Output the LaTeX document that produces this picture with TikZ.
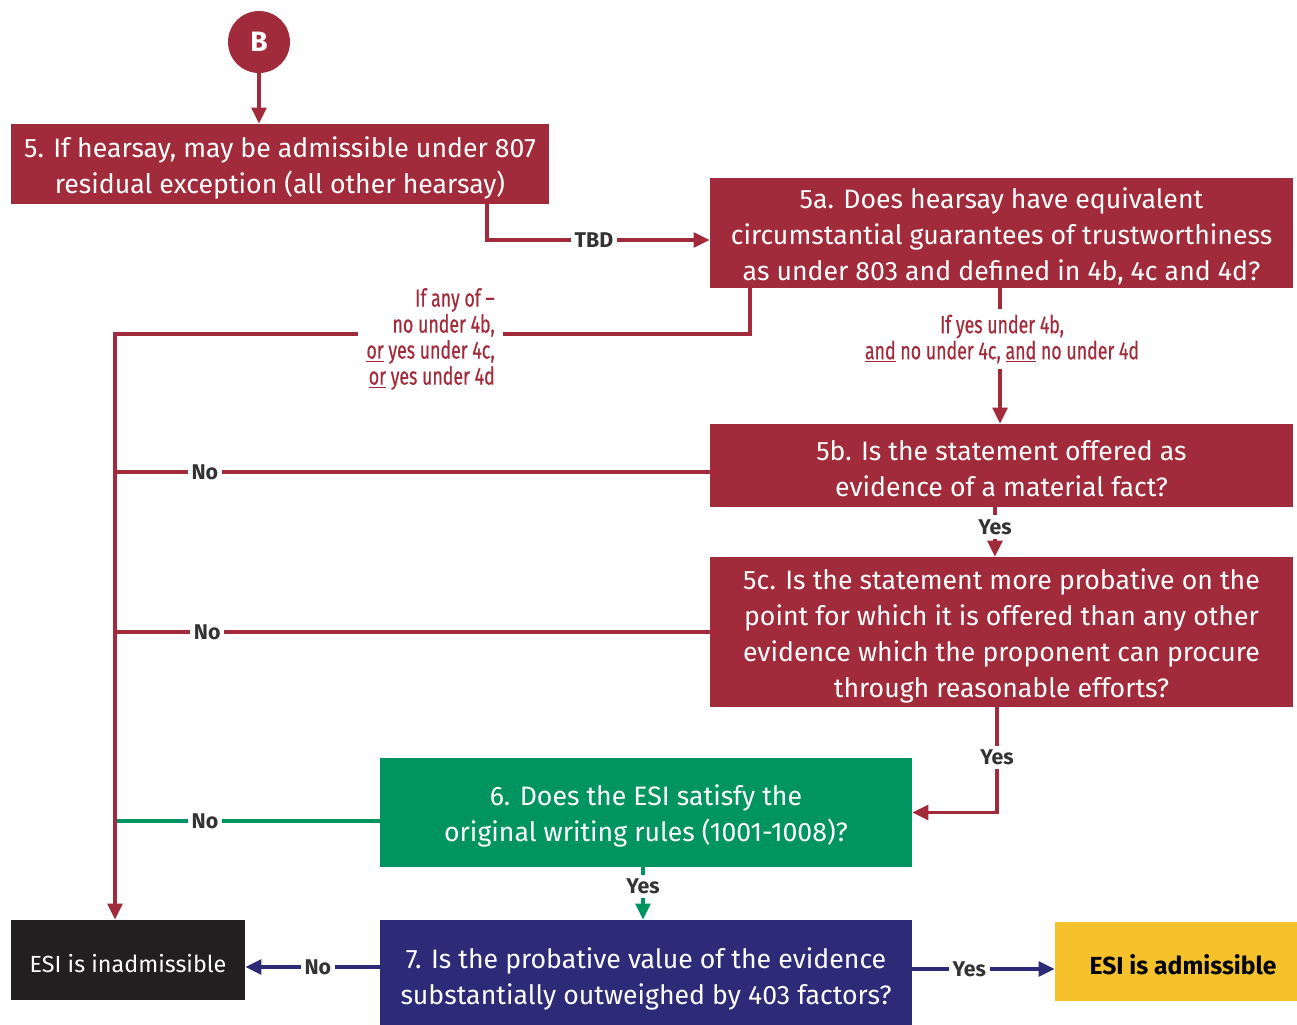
\documentclass[tikz,border=0pt]{standalone}
\usepackage{fontspec}
\setmainfont{Fira Sans}
\newfontfamily\condfont[FakeStretch=0.72,FakeBold=0.5]{Fira Sans}
\usetikzlibrary{arrows.meta}
\definecolor{cred}{HTML}{A22B3B}
\definecolor{cgreen}{HTML}{009560}
\definecolor{cnavy}{HTML}{2D2A78}
\definecolor{cyel}{HTML}{F6C22C}
\definecolor{cblk}{HTML}{231F20}
\definecolor{cgray}{HTML}{333333}
\tikzset{
  box/.style={rectangle, inner sep=0pt},
  boxtext/.style={inner sep=0pt, align=center, text=white,
    font=\fontsize{20}{27}\selectfont},
  conn/.style={line width=2.6pt},
  tip/.style={-{Triangle[length=12pt,width=11pt]}},
  lbl/.style={fill=white, inner sep=3pt, text=cgray, font=\fontsize{16}{18}\selectfont\bfseries},
  cond/.style={fill=white, text=cred, font=\fontsize{18.5}{19.5}\selectfont\condfont},
}
\begin{document}
\begin{tikzpicture}[x=0.75pt,y=-0.75pt]
\useasboundingbox (0,0) rectangle (1297,1025);
% boxes
\node[circle, fill=cred, minimum size=46.5pt, inner sep=0pt, text=white,
  font=\fontsize{21}{21}\selectfont\bfseries] (B) at (259,42) {B};
\node[box, fill=cred, minimum width=403.5pt, minimum height=60pt] (b5) at (280,164) {};
\node[box, fill=cred, minimum width=437.25pt, minimum height=82.5pt] (b5a) at (1001.5,233) {};
\node[box, fill=cred, minimum width=437.25pt, minimum height=62.25pt] (b5b) at (1001.5,465.5) {};
\node[box, fill=cred, minimum width=437.25pt, minimum height=112.5pt] (b5c) at (1001.5,632) {};
\node[box, fill=cgreen, minimum width=399pt, minimum height=81.75pt] (b6) at (646,812.5) {};
\node[box, fill=cnavy, minimum width=399pt, minimum height=87pt] (b7) at (646,978) {};
\node[box, fill=cblk, minimum width=175.5pt, minimum height=60pt] (inad) at (128,960) {};
\node[box, fill=cyel, minimum width=192pt, minimum height=59.25pt] (adm) at (1183,961.5) {};
% box texts
\node[boxtext] (t5) at ([yshift=-2.6pt]b5.center)
  {5. If hearsay, may be admissible under 807\\residual exception (all other hearsay)};
\node[boxtext] (t5a) at ([yshift=-2.6pt]b5a.center)
  {5a. Does hearsay have equivalent\\circumstantial guarantees of trustworthiness\\as under 803 and defined in 4b, 4c and 4d?};
\node[boxtext] (t5b) at ([yshift=-2.4pt]b5b.center)
  {5b. Is the statement offered as\\evidence of a material fact?};
\node[boxtext] (t5c) at ([yshift=-3.2pt]b5c.center)
  {5c. Is the statement more probative on the\\point for which it is offered than any other\\evidence which the proponent can procure\\through reasonable efforts?};
\node[boxtext] (t6) at ([yshift=-2.8pt]b6.center)
  {6. Does the ESI satisfy the\\original writing rules (1001-1008)?};
\node[boxtext] (t7) at ([yshift=-0.6pt]b7.center)
  {7. Is the probative value of the evidence\\substantially outweighed by 403 factors?};
\node[boxtext, font=\fontsize{17.5}{27}\selectfont] (tinad) at ([yshift=-2.3pt]inad.center)
  {ESI is inadmissible};
\node[boxtext, text=black, font=\fontsize{18.5}{27}\selectfont\bfseries] (tadm) at ([yshift=-2.3pt]adm.center)
  {ESI is admissible};
\coordinate (trunk) at (115,334);

% connectors
\draw[conn, cred, tip] (B.south) -- (B.south |- b5.north);
\draw[conn, cred, tip] ([xshift=155.25pt]b5.south) |- node[lbl, pos=0.74] {TBD} ([yshift=-5.25pt]b5a.west);
\draw[conn, cred] ([yshift=-5pt]b5b.west) -- node[lbl, pos=0.849] {No} ([yshift=-5pt]b5b.west -| trunk);
\draw[conn, cred] (b5c.west) -- node[lbl, pos=0.845] {No} (b5c.west -| trunk);
\draw[conn, cgreen] ([yshift=-6.4pt]b6.west) -- node[lbl, pos=0.66] {No} ([yshift=-6.4pt]b6.west -| trunk);
\draw[conn, cred, tip] ([xshift=-188.6pt]b5a.south) |- (trunk) -- (trunk |- inad.north);
\draw[conn, cred, tip] ([xshift=-1.1pt]b5a.south) -- ([xshift=-1.1pt]b5a.south |- b5b.north);
\draw[conn, cred, tip] ([xshift=-4.9pt]b5b.south) -- node[lbl, pos=0.4] {Yes} ([xshift=-4.9pt]b5c.north);
\draw[conn, cred, tip] ([xshift=-3.4pt]b5c.south) |- node[lbl, pos=0.238] {Yes} (b6.east);
\draw[conn, cgreen, tip] ([xshift=-2.25pt]b6.south) -- node[lbl, pos=0.37] {Yes} ([xshift=-2.25pt]b7.north);
\draw[conn, cnavy, tip] ([yshift=8.25pt]b7.west) -- node[lbl, pos=0.46] {No} ([yshift=8.25pt]b7.west -| inad.east);
\draw[conn, cnavy, tip] ([yshift=6.75pt]b7.east) -- node[lbl, pos=0.4] {Yes} ([yshift=6.75pt]b7.east -| adm.west);

% condition labels
\node[cond, align=right, anchor=east, inner xsep=6pt, inner ysep=2pt] (ca) at (503,339)
  {If any of –\\no under 4b,\\\underline{or} yes under 4c,\\\underline{or} yes under 4d};
\node[cond, align=center, inner xsep=2pt, inner ysep=4pt] (cb) at (1002,339)
  {If yes under 4b,\\\underline{and} no under 4c, \underline{and} no under 4d};
\end{tikzpicture}
\end{document}
